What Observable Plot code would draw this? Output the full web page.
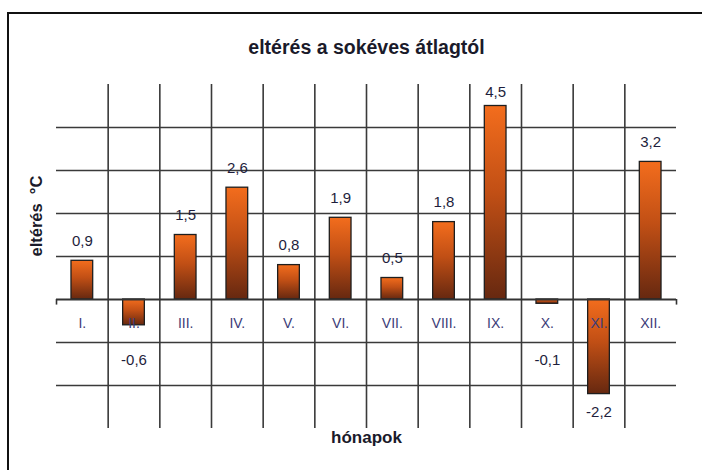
<!DOCTYPE html>
<html>
<head>
<meta charset="utf-8">
<script src="https://cdn.jsdelivr.net/npm/d3@7"></script>
<script src="https://cdn.jsdelivr.net/npm/@observablehq/plot@0.6"></script>
<style>
  html, body { margin: 0; padding: 0; background: #fff; }
  #wrap { position: relative; width: 702px; height: 470px; overflow: hidden; }
  #frame { position: absolute; left: 7px; top: 12px; width: 720px; height: 500px;
           border-left: 2px solid #111; border-top: 2px solid #111; pointer-events: none; }
</style>
</head>
<body>
<div id="wrap"><div id="frame"></div></div>
<script>
const months = ["I.", "II.", "III.", "IV.", "V.", "VI.", "VII.", "VIII.", "IX.", "X.", "XI.", "XII."];
const values = [0.9, -0.6, 1.5, 2.6, 0.8, 1.9, 0.5, 1.8, 4.5, -0.1, -2.2, 3.2];
const gridValues = [-2, -1, 1, 2, 3, 4];
const yDomain = [-3, 5];
const titleText = "eltérés a sokéves átlagtól";
const xTitle = "hónapok";
const yTitle = "eltérés  °C";

const table = months.map((m, i) => ({m, i, v: values[i]}));
const xDomain = [-0.5, months.length - 0.5];
const boundaries = d3.range(1, months.length).map(k => k - 0.5);
const fmt = v => String(v).replace(".", ",");
const half = 0.21;
const gridColor = "#3a3a3a";
const font = "'Liberation Sans', Arial, sans-serif";

const svg = Plot.plot({
  width: 702,
  height: 470,
  marginLeft: 56,
  marginRight: 26,
  marginTop: 84,
  marginBottom: 42,
  style: {fontFamily: font, background: "transparent"},
  x: {type: "linear", domain: xDomain, axis: null},
  y: {domain: yDomain, axis: null},
  marks: [
    Plot.ruleY(gridValues, {stroke: gridColor, strokeWidth: 1.6}),
    Plot.ruleX(boundaries, {stroke: gridColor, strokeWidth: 1.6}),
    Plot.rect(table, {
      x1: d => d.i - half, x2: d => d.i + half, y1: 0, y2: "v",
      fill: "url(#barGrad)", stroke: "#1e1e1e", strokeWidth: 1.3
    }),
    Plot.ruleY([0], {stroke: "#333", strokeWidth: 2}),
    Plot.ruleX(xDomain, {y1: 0, y2: -0.13, stroke: "#333", strokeWidth: 1.6}),
    Plot.text(table, {x: "i", y: 0, text: "m", dy: 24, fontSize: 14, fill: "#3c3c78"}),
    Plot.text(table.filter(d => d.v >= 0), {
      x: "i", y: d => Math.min(d.v, 4.35), text: d => fmt(d.v), dy: -20, fontSize: 15, fill: "#1e1e3c"
    }),
    Plot.text(table.filter(d => d.v < 0), {
      x: "i", y: d => Math.min(d.v, -1), text: d => fmt(d.v), dy: 18, fontSize: 15, fill: "#1e1e3c"
    }),
    Plot.text([titleText], {frameAnchor: "top", dy: -44, fontSize: 19.5, fontWeight: "bold", fill: "#1a1a2a"}),
    Plot.text([xTitle], {frameAnchor: "bottom", dy: 14.5, fontSize: 17, fontWeight: "bold", fill: "#1a1a2a"}),
    Plot.text([yTitle], {frameAnchor: "left", dx: -20, rotate: -90, fontSize: 16.5, fontWeight: "bold", fill: "#1a1a2a"})
  ]
});

const defs = d3.select(svg).insert("defs", ":first-child");
const grad = defs.append("linearGradient")
  .attr("id", "barGrad").attr("x1", 0).attr("y1", 0).attr("x2", 0).attr("y2", 1);
grad.append("stop").attr("offset", "0%").attr("stop-color", "#f36d1d");
grad.append("stop").attr("offset", "45%").attr("stop-color", "#c14f15");
grad.append("stop").attr("offset", "100%").attr("stop-color", "#662810");

document.getElementById("wrap").prepend(svg);
</script>
</body>
</html>
